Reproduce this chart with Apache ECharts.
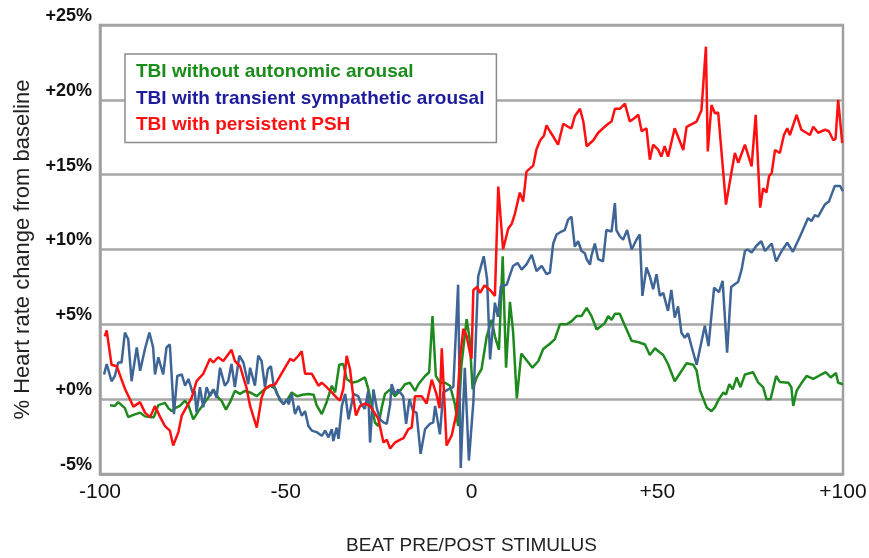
<!DOCTYPE html>
<html>
<head>
<meta charset="utf-8">
<script src="https://cdn.jsdelivr.net/npm/echarts@6.0.0/dist/echarts.min.js"></script>
<style>
html,body{margin:0;padding:0;background:#ffffff;}
#chart{width:869px;height:558px;}
</style>
</head>
<body>
<div id="chart"></div>
<script>
// ---- data (beat, % change) ----
const seriesNames = [
  'TBI without autonomic arousal',
  'TBI with transient sympathetic arousal',
  'TBI with persistent PSH'
];

const greenData = [
  [-97.3,-0.4],[-96,-0.45],[-95.1,-0.2],[-94.2,-0.4],[-93.3,-0.6],[-92.4,-1.2],[-91,-1.05],[-89.2,-0.9],
  [-87.9,-1.15],[-86.5,-1.2],[-85.5,-1.2],[-84.3,-0.4],[-82.5,-0.25],[-81.6,-0.6],[-80.7,-0.8],[-79.8,-0.6],
  [-78.5,-0.45],[-77.1,-0.1],[-76.2,-0.4],[-74.9,-1.35],[-73.5,-0.8],[-72.2,-0.35],[-70.9,0.1],[-69.5,0.65],
  [-68.2,0.1],[-67.3,-0.1],[-66.1,-0.7],[-65,-0.2],[-63.7,0.55],[-62.3,0.35],[-61,0.55],[-59.6,0.45],
  [-57.8,0.2],[-56,0.6],[-54.2,0.9],[-52.8,0.7],[-51.5,-0.1],[-50.6,-0.3],[-49.7,-0.1],[-48.4,0.45],
  [-47,0.2],[-45.5,0.3],[-43.9,0.35],[-42.5,0.3],[-41.7,-0.4],[-40.3,-1.0],[-39,-0.2],[-37.6,0.9],
  [-36.7,0.45],[-35.6,2.3],[-34.5,2.35],[-33.6,1.35],[-32.2,1.1],[-30.5,1.2],[-28.7,1.45],[-27.8,0.7],
  [-26.9,-0.35],[-26,-1.55],[-25.1,-1.8],[-24.2,-0.6],[-23.3,0.35],[-21.9,0.65],[-20.6,0.2],[-19.25,0.55],
  [-17.9,1.0],[-16.6,1.1],[-15.2,0.55],[-14.3,1.0],[-12.5,1.55],[-11.4,1.8],[-10.5,5.55],[-9.6,1.55],
  [-8.5,1.1],[-7.1,1.1],[-5.8,0.9],[-4.5,-0.3],[-3.6,-1.8],[-2.7,2.3],[-1.3,5.35],[-0.5,4.0],
  [0.3,0.65],[1.4,1.45],[2.7,2.0],[4.1,4.2],[5.4,5.3],[6.3,4.2],[7.4,3.3],[8.4,9.55],
  [9.3,2.1],[10.35,6.5],[11.2,4.5],[12.2,0.05],[13.4,3.05],[15.3,2.45],[16.4,2.1],[18,2.55],
  [19.3,3.35],[21.1,3.7],[22.4,4.0],[23.8,5.0],[25.6,5.0],[26.9,5.2],[28.3,5.55],[29.6,5.55],
  [31,6.1],[32.3,5.55],[33.7,4.65],[35,4.9],[35.9,5.1],[36.8,5.55],[37.7,5.3],[38.6,5.7],
  [39.9,5.7],[41.3,4.9],[43.1,3.9],[45,3.8],[46.7,3.65],[48,2.95],[49.4,3.4],[50.3,3.2],
  [51.6,2.95],[52.9,2.35],[54.7,1.2],[56.3,1.8],[57.9,2.4],[59.7,2.3],[60.6,1.9],[61.5,0.6],
  [63.3,-0.55],[64.6,-0.8],[65.5,-0.55],[66.6,0.0],[67.8,0.45],[68.5,0.3],[69.4,1.0],[70.3,0.65],
  [71.4,1.45],[72.4,0.8],[73.6,1.65],[75.8,1.8],[77.2,1.1],[78.5,0.8],[79.4,0.0],[80.5,0.0],
  [82,1.55],[83,1.15],[85.3,1.1],[86.1,0.8],[86.6,-0.45],[87.5,0.55],[88.9,1.1],[90.2,1.55],
  [92,1.35],[93.8,1.6],[95.4,1.8],[96.7,1.45],[98.1,1.75],[98.7,1.1],[100,1.0]
];

const blueData = [
  [-98.9,1.65],[-98.2,2.35],[-96.9,1.2],[-96,1.55],[-95.1,2.45],[-94.2,2.45],[-93.3,4.45],[-92.4,4.0],
  [-91.5,1.2],[-90.1,3.45],[-89.2,1.9],[-87.9,3.35],[-86.7,4.45],[-85.7,3.45],[-85.2,1.65],[-84.3,2.8],
  [-83,1.65],[-82.1,3.45],[-81.2,3.65],[-80.1,-1.0],[-79.2,1.55],[-78,1.65],[-77.1,0.9],[-76.2,1.35],
  [-75.1,0.45],[-74.5,0.55],[-74,-0.9],[-73.1,0.8],[-72.2,-0.55],[-71.3,0.8],[-70.4,0.2],[-69.5,0.65],
  [-68.6,0.1],[-67.7,2.1],[-66.4,0.9],[-65.5,1.2],[-64.6,2.35],[-63.7,0.8],[-62.5,2.9],[-61.4,2.45],
  [-60.1,1.0],[-59.6,2.1],[-58.3,0.9],[-57.4,2.9],[-56.5,2.55],[-55.6,0.8],[-54.8,2.0],[-54,2.2],
  [-53.3,1.0],[-52.4,0.35],[-51.5,0.0],[-50.6,-0.35],[-49.7,0.0],[-49.2,-0.35],[-48.4,0.35],[-47.5,-1.0],
  [-46.6,-0.45],[-45.7,-1.1],[-44.8,-0.8],[-43.9,-1.8],[-43,-2.1],[-41.7,-2.2],[-40.3,-2.45],[-39.4,-2.1],
  [-38.5,-2.55],[-37.6,-2.0],[-37.2,-2.8],[-36.3,-1.9],[-35.8,-2.65],[-34.9,-0.45],[-34,0.35],[-33.1,-1.35],
  [-32.2,-0.2],[-31.8,0.35],[-30.5,0.2],[-29.6,-0.35],[-28.7,-0.65],[-27.8,0.55],[-27.3,-2.9],[-26.4,0.65],
  [-25.5,-0.6],[-24.6,-1.35],[-23.7,-1.55],[-22.8,-1.65],[-21.9,-0.35],[-21.5,1.0],[-20.6,0.35],[-19.7,0.65],
  [-19.25,0.45],[-18.4,0.2],[-17.6,-1.65],[-16.7,0.0],[-15.7,-0.8],[-14.8,-0.9],[-13.7,-3.65],[-12.5,-2.0],
  [-11.2,-1.65],[-10.3,-1.55],[-9.8,-0.45],[-8.5,-2.35],[-7.6,0.45],[-6.25,0.65],[-4.9,0.8],[-3.6,7.65],
  [-2.9,-4.6],[-1.8,2.1],[-0.7,-4.1],[0.5,-0.2],[1.8,8.2],[3.3,9.55],[4.2,8.0],[5.0,2.65],
  [6.3,6.45],[7.1,5.5],[7.9,7.55],[9.5,7.65],[10.5,8.4],[11.2,8.9],[12.4,9.1],[13.5,8.65],
  [14.8,9.0],[16.2,9.65],[17.5,8.55],[18.9,8.9],[20.2,8.35],[21.1,8.45],[22,10.4],[22.9,11.0],
  [24.2,11.2],[25.1,11.3],[26,12.0],[26.9,12.2],[27.8,10.2],[28.7,10.55],[29.6,9.9],[30.5,9.75],
  [31,9.35],[31.9,9.0],[32.3,9.6],[33.2,10.4],[34.1,9.35],[35.4,9.2],[36.3,11.3],[37.7,11.2],
  [38.6,13.1],[39,11.3],[39.9,10.9],[40.8,10.65],[41.9,11.3],[43.1,10.0],[44.4,10.65],[45.3,11.0],
  [46,6.9],[47.1,8.8],[48,8.2],[48.9,7.35],[49.8,8.35],[50.7,6.9],[51.6,7.1],[52.9,5.9],
  [53.8,7.3],[54.7,5.45],[55.6,6.2],[56.5,4.45],[57.4,4.1],[58.3,4.4],[59.2,3.55],[60.6,2.3],
  [62.8,4.9],[63.8,3.55],[65.3,7.45],[66.6,7.15],[67.6,7.9],[68.8,3.1],[69.9,7.5],[71.8,7.85],
  [72.7,8.65],[73.6,9.9],[74.3,10.0],[75.4,9.8],[76.7,10.25],[78,10.55],[79,9.9],[80.8,10.4],
  [82,9.2],[83.5,9.9],[85,10.45],[86.5,9.85],[88.4,10.85],[90.6,12.1],[91.5,11.9],[92.4,12.3],
  [93.3,12.2],[95.1,13.0],[96.2,13.2],[97.8,14.25],[99.2,14.25],[100,13.9]
];

const redData = [
  [-98.7,4.2],[-98.2,4.6],[-96.9,2.3],[-95.5,2.2],[-93.3,0.7],[-91,-0.5],[-89.2,-0.2],[-87.9,-0.9],
  [-86.5,-1.2],[-85.2,-0.45],[-83.8,-1.2],[-82.5,-1.8],[-81.2,-2.1],[-80.3,-3.1],[-78.9,-2.2],[-78,-1.1],
  [-75.3,0.1],[-74,1.2],[-72.2,1.7],[-70.4,2.7],[-69.5,2.45],[-68.2,2.8],[-66.8,2.55],[-64.6,3.3],
  [-63.7,2.55],[-62.3,2.2],[-60.5,0.7],[-59.6,-0.45],[-57.8,-1.9],[-56.5,0.1],[-55.6,0.7],[-54.2,0.9],
  [-52.8,1.0],[-51.5,1.55],[-50.2,2.1],[-48.8,2.7],[-47.9,2.55],[-46.6,2.9],[-45.7,3.2],[-44.8,1.7],
  [-43,1.7],[-42.1,1.3],[-41.2,0.9],[-40.3,1.1],[-39,0.8],[-37.6,0.45],[-36.3,0.1],[-35.4,-0.1],
  [-34.5,0.7],[-33.6,2.9],[-32.7,2.0],[-31.8,0.1],[-31.1,-1.1],[-30,-0.45],[-28.7,-0.3],[-27.3,-0.45],
  [-26.4,-0.8],[-25.1,-1.3],[-23.7,-2.9],[-22.8,-2.7],[-21.9,-3.3],[-20.6,-2.9],[-19.2,-2.7],[-18.3,-2.6],
  [-17,-2.0],[-16.1,-1.9],[-15.2,0.2],[-13.4,0.2],[-12.1,-0.3],[-10.7,1.3],[-9.4,0.3],[-8.6,-0.6],
  [-8,3.4],[-6.7,-3.1],[-5.3,-2.4],[-4,-0.9],[-3.1,2.7],[-2.2,4.7],[-1.3,4.2],[-0.5,3.2],
  [0,2.7],[0.5,7.3],[1.5,7.5],[2.3,7.1],[3.5,7.6],[5,7.3],[6.3,6.9],[7.2,14.2],
  [8.5,10.0],[9.9,11.4],[10.8,11.7],[11.7,12.4],[13,13.8],[13.9,13.2],[14.8,15.2],[15.7,15.4],
  [16.6,15.6],[17.5,16.7],[18.5,17.3],[19.5,17.6],[20.2,18.3],[21.1,17.9],[22,17.55],[23.3,17.0],
  [24.7,18.4],[26,18.2],[26.9,18.1],[27.8,18.9],[29.2,19.4],[30.1,18.55],[31,16.9],[31.9,17.1],
  [32.8,17.3],[33.3,17.2],[34.1,17.8],[35.4,18.1],[36.8,18.4],[37.7,18.55],[38.6,19.4],[39.9,19.4],
  [41.3,19.75],[42.6,18.55],[44,18.8],[44.9,19.0],[45.8,17.9],[47.1,18.1],[48,16.0],[48.9,17.0],
  [50.3,16.65],[51.1,16.2],[52,16.9],[52.9,16.2],[54.7,18.1],[57,16.65],[57.9,18.2],[60.6,18.55],
  [61.9,19.3],[63.1,23.55],[63.6,16.55],[64.6,19.65],[65.5,19.1],[66.4,19.15],[68.5,13.0],[70,15.2],
  [70.9,16.45],[71.8,15.8],[73.6,17.0],[75.4,15.55],[76.5,19.0],[77.7,12.8],[78.5,14.1],[79.4,13.8],
  [80.1,14.9],[80.8,15.1],[81.7,16.65],[83,16.45],[84.1,17.65],[85,18.1],[85.7,17.65],[87.5,19.0],
  [88.8,18.0],[91.1,17.65],[92,18.2],[93.3,17.8],[95.2,18.0],[96.2,17.9],[97.4,17.3],[98,17.4],
  [98.7,20.0],[99.8,17.1]
];

const lineColors = ['#1e8a1e', '#3f6596', '#ff1010'];
const legendTextColors = ['#1a8c1a', '#1c1c9c', '#ff1010'];
const FONT = "'Liberation Sans', Arial, sans-serif";

const chart = echarts.init(document.getElementById('chart'), null, {renderer: 'canvas'});
const allData = [greenData, blueData, redData];

chart.setOption({
  animation: false,
  backgroundColor: '#ffffff',
  textStyle: {fontFamily: FONT},
  grid: {
    left: 100, right: 26, top: 25, bottom: 84,
    containLabel: false, outerBoundsMode: 'none',
    show: true, borderColor: '#a0a0a0', borderWidth: 2.5, backgroundColor: 'transparent'
  },
  legend: {
    orient: 'vertical',
    left: 125, top: 54,
    selectedMode: false,
    data: seriesNames.map((n, i) => ({name: n, icon: 'none', textStyle: {color: legendTextColors[i]}})),
    itemWidth: 0, itemHeight: 20, itemGap: 7,
    padding: [8, 12, 8, 6],
    backgroundColor: '#ffffff',
    borderColor: '#8c8c8c', borderWidth: 1.5, borderRadius: 0,
    textStyle: {fontSize: 19, fontWeight: 'bold', fontFamily: FONT}
  },
  xAxis: {
    type: 'value', min: -100, max: 100, interval: 50,
    axisLine: {show: true, onZero: false, lineStyle: {color: '#a0a0a0', width: 2.5}},
    axisTick: {show: false},
    splitLine: {show: false},
    axisLabel: {
      fontSize: 21, color: '#111111', margin: 8, fontFamily: FONT,
      formatter: v => (v > 0 ? '+' + v : String(v))
    },
    name: 'BEAT PRE/POST STIMULUS',
    nameLocation: 'middle', nameGap: 62,
    nameTextStyle: {fontSize: 19, color: '#222222', fontFamily: FONT}
  },
  yAxis: {
    type: 'value', min: -5, max: 25, interval: 5,
    axisLine: {show: true, onZero: false, lineStyle: {color: '#a0a0a0', width: 2.5}},
    axisTick: {show: false},
    splitLine: {show: true, lineStyle: {color: '#a6a6a6', width: 2.5}},
    axisLabel: {
      fontSize: 18, fontWeight: 'bold', color: '#111111', margin: 8, verticalAlign: 'bottom', fontFamily: FONT,
      formatter: v => (v >= 0 ? '+' + v + '%' : v + '%')
    },
    name: '% Heart rate change from baseline',
    nameLocation: 'middle', nameGap: 66,
    nameTextStyle: {fontSize: 22, color: '#222222', fontFamily: FONT}
  },
  series: seriesNames.map((n, i) => ({
    name: n,
    type: 'line',
    data: allData[i],
    showSymbol: false,
    symbol: 'none',
    silent: true,
    z: 2 + i,
    lineStyle: {color: lineColors[i], width: 2.5},
    itemStyle: {color: lineColors[i]}
  }))
});
</script>
</body>
</html>
